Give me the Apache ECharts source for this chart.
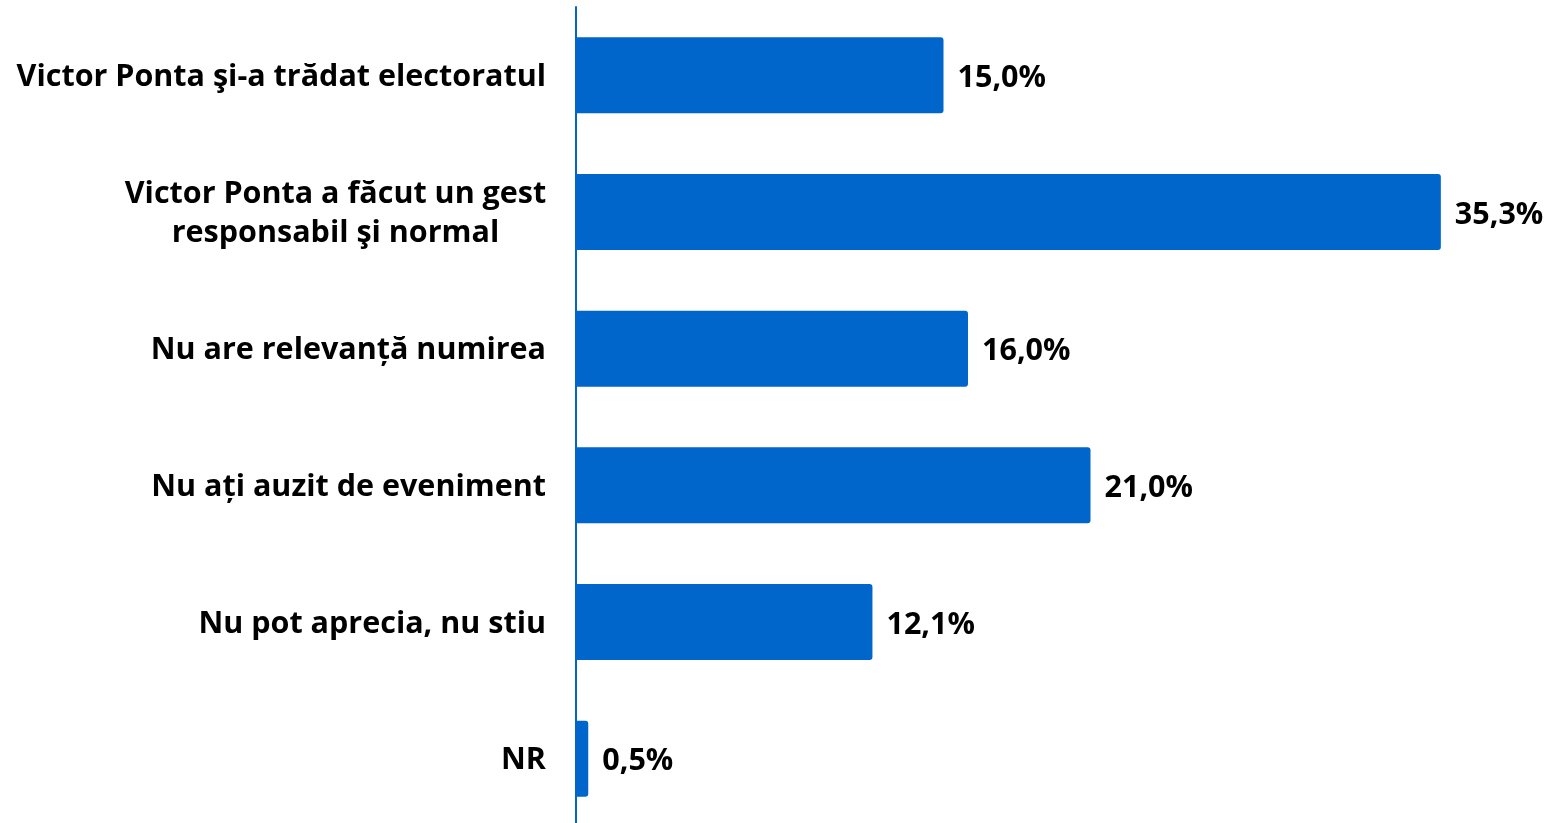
<!DOCTYPE html>
<html lang="en">
<head>
    <meta charset="UTF-8">
    <title>Victor Ponta</title>
    <script src="https://cdn.jsdelivr.net/npm/echarts@6/dist/echarts.min.js"></script>
    <style>
        * {padding: 0; margin: 0;}
        body {background: #fff;}
        #main {width: 1550px; height: 823px;}
    </style>
</head>
<body>
    <div id="main"></div>
    <script>
        const categories = [
            'Victor Ponta şi-a trădat electoratul',
            'Victor Ponta a făcut un gest\nresponsabil şi normal',
            'Nu are relevanță numirea',
            'Nu ați auzit de eveniment',
            'Nu pot aprecia, nu stiu',
            'NR'
        ];
        const values = [15.0, 35.3, 16.0, 21.0, 12.1, 0.5];

        const blue = '#0066CC';
        const font = 'Open Sans';
        const size = 30.5;

        const chart = echarts.init(document.getElementById('main'));

        chart.setOption({
            animation: false,
            grid: {left: 576, top: 7, width: 980, height: 820, outerBoundsMode: 'none', containLabel: false},
            xAxis: {
                type: 'value',
                min: 0,
                max: 40,
                show: false
            },
            yAxis: {
                type: 'category',
                inverse: true,
                data: categories,
                axisLine: {lineStyle: {color: blue, width: 2}},
                axisTick: {show: false},
                axisLabel: {
                    margin: 30,
                    color: '#000',
                    fontFamily: font,
                    fontWeight: 'bold',
                    fontSize: size,
                    lineHeight: 39,
                    padding: [4, 0, 0, 0],
                    formatter: function (v) {
                        if (v.indexOf('\n') >= 0) {
                            return v.split('\n').map(function (s) { return '{c|' + s + '}'; }).join('\n');
                        }
                        return v;
                    },
                    rich: {
                        c: {
                            width: 421,
                            align: 'center',
                            color: '#000',
                            fontFamily: font,
                            fontWeight: 'bold',
                            fontSize: size,
                            lineHeight: 39
                        }
                    }
                }
            },
            series: [{
                type: 'bar',
                data: values,
                barWidth: 76,
                itemStyle: {color: blue, borderRadius: [0, 3, 3, 0]},
                label: {
                    show: true,
                    position: 'right',
                    distance: 14,
                    offset: [0, 3],
                    color: '#000',
                    fontFamily: font,
                    fontWeight: 'bold',
                    fontSize: size,
                    formatter: function (p) {
                        return p.value.toFixed(1).replace('.', ',') + '%';
                    }
                }
            }]
        });
    </script>
</body>
</html>
